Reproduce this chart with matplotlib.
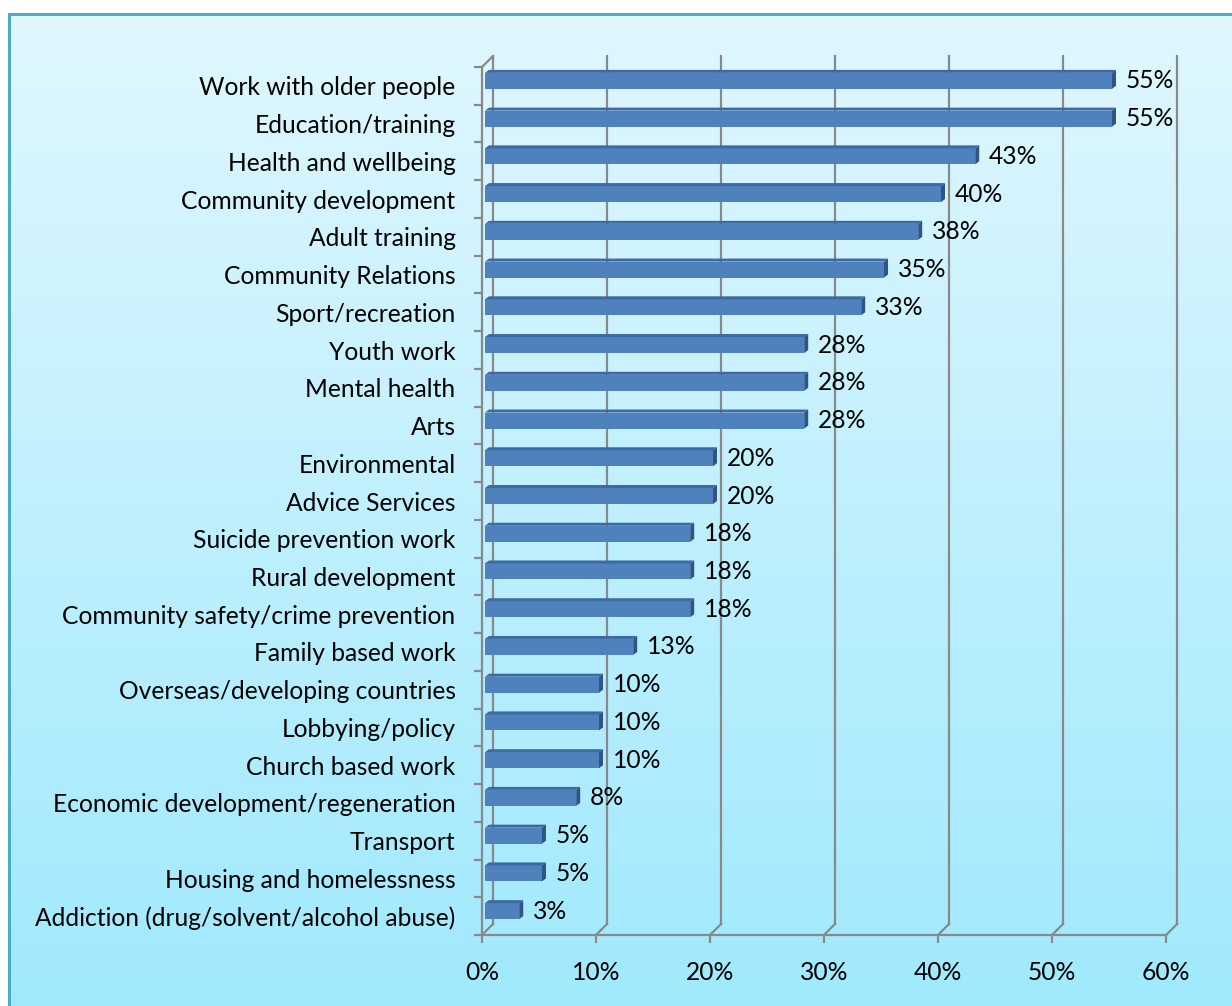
import numpy as np
import matplotlib
matplotlib.use("Agg")
import matplotlib.pyplot as plt
from matplotlib.patches import Polygon, Rectangle
from matplotlib.lines import Line2D

# data (top to bottom as shown)
categories = ["Work with older people", "Education/training", "Health and wellbeing",
              "Community development", "Adult training", "Community Relations",
              "Sport/recreation", "Youth work", "Mental health", "Arts",
              "Environmental", "Advice Services", "Suicide prevention work",
              "Rural development", "Community safety/crime prevention",
              "Family based work", "Overseas/developing countries", "Lobbying/policy",
              "Church based work", "Economic development/regeneration", "Transport",
              "Housing and homelessness", "Addiction (drug/solvent/alcohol abuse)"]
values = [55, 55, 43, 40, 38, 35, 33, 28, 28, 28, 20, 20, 18, 18, 18, 13, 10, 10, 10, 8, 5, 5, 3]
xticks = [0, 10, 20, 30, 40, 50, 60]
xtick_labels = ["0%", "10%", "20%", "30%", "40%", "50%", "60%"]

plt.rcParams['font.family'] = ['Lato', 'DejaVu Sans']
FS = 17.7
GRID = '#898989'

W, H = 1232, 1006
fig = plt.figure(figsize=(W / 100, H / 100), dpi=100)

# background gradient + border
bg = fig.add_axes([0, 0, 1, 1])
bg.set_axis_off()
top_c = np.array([0xE0, 0xF7, 0xFE]) / 255
bot_c = np.array([0xA0, 0xE9, 0xFD]) / 255
t = np.linspace(0, 1, 256)[:, None]
grad = top_c[None, :] * (1 - t) + bot_c[None, :] * t
bg.imshow(grad[:, None, :].repeat(2, axis=1), aspect='auto',
          extent=[9 / W, 1.0, 0, 1 - 14 / H], transform=bg.transAxes)
bg.set_xlim(0, 1)
bg.set_ylim(0, 1)
bg.add_patch(Rectangle((9 / W, -0.01), 1.0, 1 - 14 / H + 0.01, transform=bg.transAxes,
                       fill=False, edgecolor='#4BACC6', lw=2.2))

# main axes (front plane)
x0p, x1p, y0p, y1p = 482, 1166, 935, 67
ax = fig.add_axes([x0p / W, 1 - y0p / H, (x1p - x0p) / W, (y0p - y1p) / H])
ax.patch.set_alpha(0)
n = len(categories)
ax.set_xlim(0, 60)
ax.set_ylim(-0.5, n - 0.5)
px = 60 / (x1p - x0p)      # data units per pixel, x
py = n / (y0p - y1p)       # data units per pixel, y

ypos = np.arange(n)[::-1]

# 3D walls: back gridlines + floor diagonals
dX, dY = 11 * px, 11 * py
for xt in xticks:
    ax.add_line(Line2D([xt + dX, xt + dX], [-0.5 + dY, n - 0.5 + dY], color=GRID, lw=1.6,
                       clip_on=False, zorder=1))
    ax.add_line(Line2D([xt, xt + dX], [-0.5, -0.5 + dY], color=GRID, lw=1.6,
                       clip_on=False, zorder=1))
ax.add_line(Line2D([0, dX], [n - 0.5, n - 0.5 + dY], color=GRID, lw=1.6,
                   clip_on=False, zorder=1))

# bars with a thin 3D depth
bx, by = 3 * px, 5 * py
h = 16 * py
ddx, ddy = 4 * px, 3 * py
ax.barh(ypos + by, values, height=h, left=bx, color='#4F81BD', zorder=3)
for y, v in zip(ypos + by, values):
    yt, yb = y + h / 2, y - h / 2
    xe = bx + v
    ax.add_patch(Polygon([(bx, yt), (xe, yt), (xe + ddx, yt + ddy), (bx + ddx, yt + ddy)],
                         closed=True, facecolor='#3D6AA5', edgecolor='none', zorder=3))
    ax.add_patch(Polygon([(xe, yb), (xe, yt), (xe + ddx, yt + ddy), (xe + ddx, yb + ddy)],
                         closed=True, facecolor='#2F5485', edgecolor='none', zorder=3))
    ax.text(xe + 14 * px, y, f"{v}%", ha='left', va='center', fontsize=FS, zorder=4)

# axes / ticks
for s in ['top', 'right']:
    ax.spines[s].set_visible(False)
for s in ['bottom', 'left']:
    ax.spines[s].set_color(GRID)
    ax.spines[s].set_linewidth(1.6)
ax.set_xticks(xticks)
ax.set_xticklabels(xtick_labels, fontsize=FS)
ax.set_yticks(ypos)
ax.set_yticklabels(categories, fontsize=FS)
ax.set_yticks(np.arange(n + 1) - 0.5, minor=True)
ax.tick_params(axis='x', length=6, width=1.6, color=GRID, pad=13)
ax.tick_params(axis='y', which='major', length=0, pad=19)
ax.tick_params(axis='y', which='minor', length=6, width=1.6, color=GRID)

fig.savefig('out.png', dpi=100)
